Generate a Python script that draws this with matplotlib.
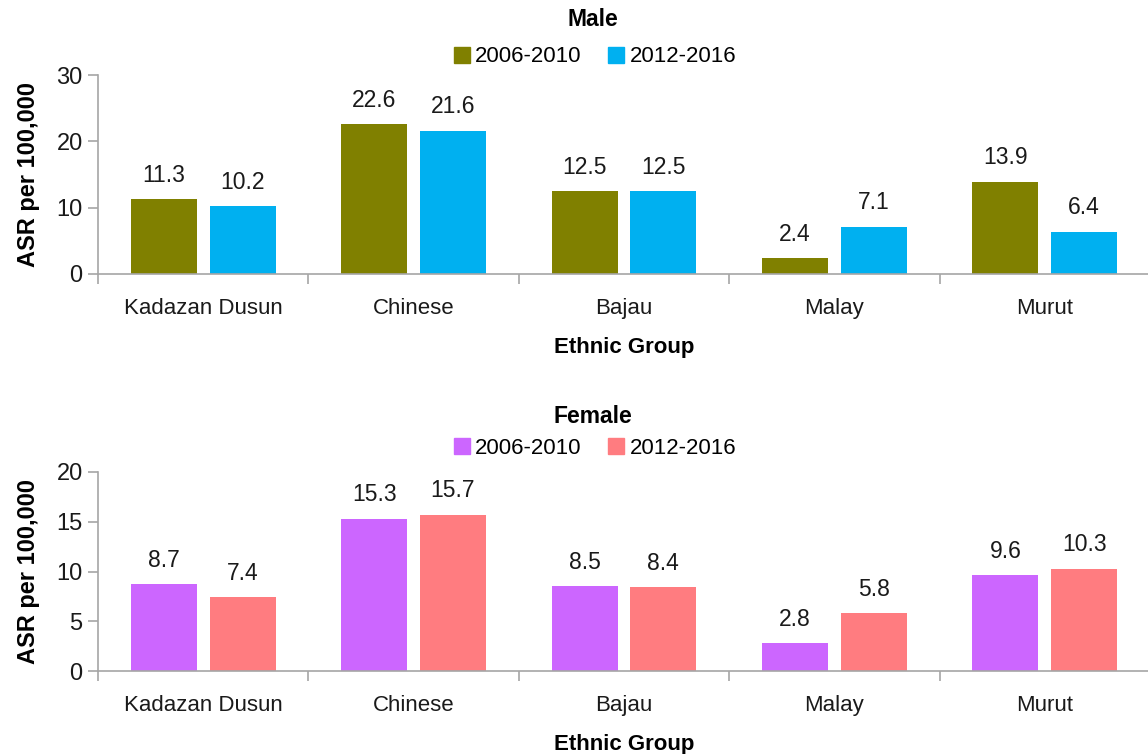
import matplotlib
matplotlib.use("Agg")
import matplotlib.pyplot as plt
import numpy as np
from matplotlib.patches import Patch

plt.rcParams['font.family'] = ['Liberation Sans', 'DejaVu Sans']

categories = ["Kadazan Dusun", "Chinese", "Bajau", "Malay", "Murut"]
periods = ["2006-2010", "2012-2016"]
male_2006 = [11.3, 22.6, 12.5, 2.4, 13.9]
male_2012 = [10.2, 21.6, 12.5, 7.1, 6.4]
female_2006 = [8.7, 15.3, 8.5, 2.8, 9.6]
female_2012 = [7.4, 15.7, 8.4, 5.8, 10.3]

male_colors = ["#808000", "#00B0F0"]
female_colors = ["#CC66FF", "#FF7C80"]

W, H = 1148, 754
fig = plt.figure(figsize=(W / 100, H / 100), dpi=100)

def px_axes(left, top, right, bottom):
    return fig.add_axes([left / W, 1 - bottom / H, (right - left) / W, (bottom - top) / H])

FS = 16
grey = "#A6A6A6"
txt = "#1a1a1a"

def draw(ax, s1, s2, colors, ymax, ystep, title, title_y, leg_y):
    x = np.arange(len(categories))
    bw = 0.314
    off = 0.187
    b1 = ax.bar(x - off, s1, bw, color=colors[0])
    b2 = ax.bar(x + off, s2, bw, color=colors[1])
    for bars, vals in ((b1, s1), (b2, s2)):
        for r, v in zip(bars, vals):
            ax.annotate(f"{v:.1f}", (r.get_x() + r.get_width() / 2, r.get_height()),
                        xytext=(0, 9), textcoords="offset points",
                        ha="center", va="bottom", fontsize=FS + 0.5, color=txt)
    ax.set_xlim(-0.5, len(categories) - 0.5)
    ax.set_ylim(0, ymax)
    ax.set_yticks(np.arange(0, ymax + 0.1, ystep))
    ax.set_xticks(x)
    ax.set_xticklabels(categories)
    ax.set_xticks(np.arange(-0.5, len(categories)), minor=True)
    ax.tick_params(axis="x", which="major", length=0, pad=17, labelsize=FS, labelcolor=txt)
    ax.tick_params(axis="x", which="minor", length=7, color=grey, width=1.2)
    ax.tick_params(axis="y", length=7, color=grey, width=1.2, pad=4, labelsize=FS + 1, labelcolor=txt)
    for s in ("top", "right"):
        ax.spines[s].set_visible(False)
    for s in ("left", "bottom"):
        ax.spines[s].set_color(grey)
        ax.spines[s].set_linewidth(1.2)
    ax.set_ylabel("ASR per 100,000", fontsize=FS + 1, fontweight="bold", labelpad=12)
    ax.set_xlabel("Ethnic Group", fontsize=FS, fontweight="bold", labelpad=13)
    fig.text(593 / W, 1 - title_y / H, title, ha="center", va="center",
             fontsize=FS + 0.5, fontweight="bold")
    handles = [Patch(color=colors[0], label=periods[0]), Patch(color=colors[1], label=periods[1])]
    fig.legend(handles=handles, loc="center", bbox_to_anchor=(595 / W, 1 - leg_y / H),
               ncol=2, frameon=False, fontsize=FS, handlelength=0.7, handleheight=0.7,
               handletextpad=0.25, columnspacing=1.2)

ax1 = px_axes(98, 75, 1150, 274)
draw(ax1, male_2006, male_2012, male_colors, 30, 10, "Male", 20, 57)
ax2 = px_axes(98, 472, 1150, 671)
draw(ax2, female_2006, female_2012, female_colors, 20, 5, "Female", 417, 448)

fig.savefig("out.png", dpi=100)
